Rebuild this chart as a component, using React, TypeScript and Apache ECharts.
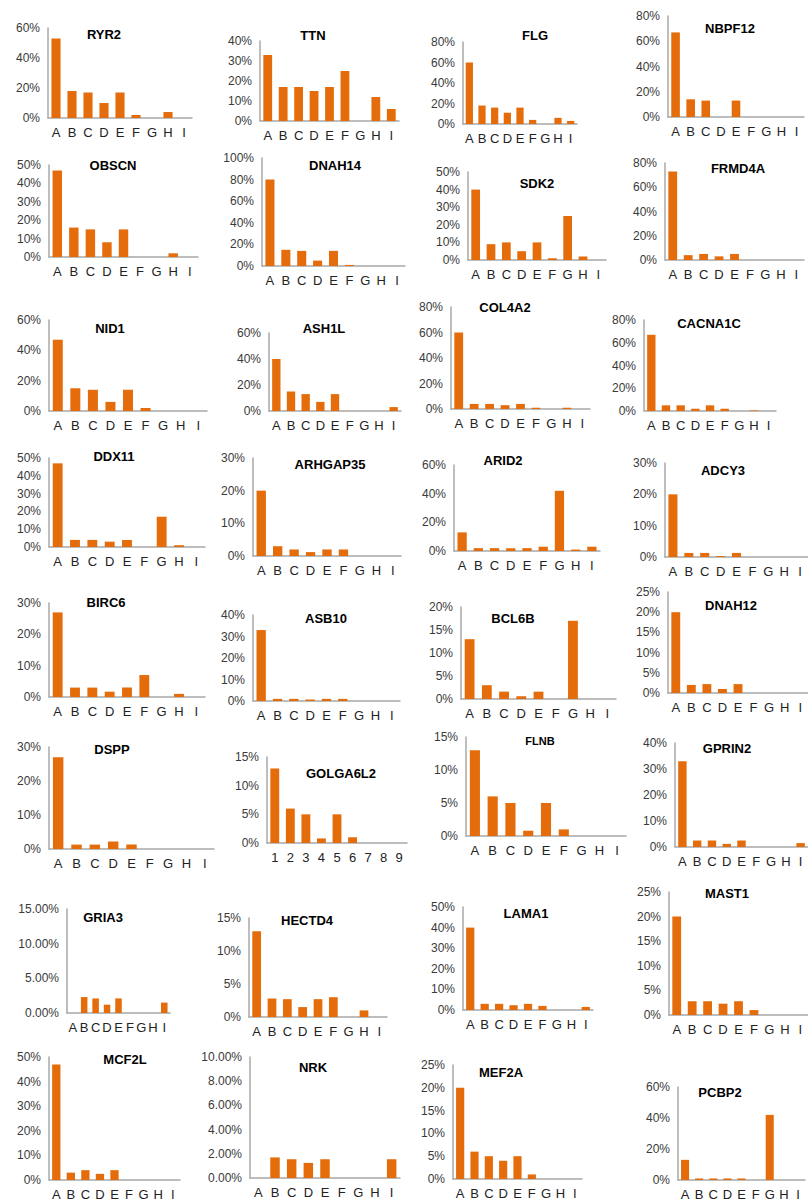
import React, { useEffect, useRef } from "react";
import * as echarts from "echarts";

const LETTERS = ["A", "B", "C", "D", "E", "F", "G", "H", "I"];
const NUMBERS = ["1", "2", "3", "4", "5", "6", "7", "8", "9"];

const GENES = [
  "RYR2", "TTN", "FLG", "NBPF12",
  "OBSCN", "DNAH14", "SDK2", "FRMD4A",
  "NID1", "ASH1L", "COL4A2", "CACNA1C",
  "DDX11", "ARHGAP35", "ARID2", "ADCY3",
  "BIRC6", "ASB10", "BCL6B", "DNAH12",
  "DSPP", "GOLGA6L2", "FLNB", "GPRIN2",
  "GRIA3", "HECTD4", "LAMA1", "MAST1",
  "MCF2L", "NRK", "MEF2A", "PCBP2",
];

// values in percent, categories A..I (GOLGA6L2: 1..9)
const RYR2 = [53, 18, 17, 10, 17, 2, 0, 4, 0];
const TTN = [33, 17, 17, 15, 17, 25, 0, 12, 6];
const FLG = [60, 18, 16, 11, 16, 4, 0, 6, 3];
const NBPF12 = [67, 14, 13, 0, 13, 0, 0, 0, 0];
const OBSCN = [47, 16, 15, 8, 15, 0, 0, 2, 0];
const DNAH14 = [80, 15, 14, 5, 14, 1, 0, 0, 0];
const SDK2 = [40, 9, 10, 5, 10, 1, 25, 2, 0];
const FRMD4A = [73, 4, 5, 3, 5, 0, 0, 0, 0];
const NID1 = [47, 15, 14, 6, 14, 2, 0, 0, 0];
const ASH1L = [40, 15, 13, 7, 13, 0, 0, 0, 3];
const COL4A2 = [60, 4, 4, 3, 4, 1, 0, 1, 0];
const CACNA1C = [67, 5, 5, 2, 5, 2, 0, 0.5, 0];
const DDX11 = [47, 4, 4, 3, 4, 0, 17, 1, 0];
const ARHGAP35 = [20, 3, 2, 1.2, 2, 2, 0, 0, 0];
const ARID2 = [13, 2, 2, 2, 2, 3, 42, 1, 3];
const ADCY3 = [20, 1.3, 1.3, 0.3, 1.3, 0, 0, 0, 0];
const BIRC6 = [27, 3, 3, 1.7, 3, 7, 0, 1, 0];
const ASB10 = [33, 1, 1, 0.7, 1, 1, 0, 0, 0];
const BCL6B = [13, 3, 1.6, 0.6, 1.6, 0, 17, 0, 0];
const DNAH12 = [20, 2, 2.2, 1, 2.2, 0, 0, 0, 0];
const DSPP = [27, 1.3, 1.3, 2.2, 1.3, 0, 0, 0, 0];
const GOLGA6L2 = [13, 6, 5, 0.8, 5, 1, 0, 0, 0];
const FLNB = [13, 6, 5, 0.8, 5, 1, 0, 0, 0];
const GPRIN2 = [33, 2.5, 2.5, 1.2, 2.5, 0, 0, 0, 1.5];
const GRIA3 = [0, 2.3, 2.1, 1.2, 2.1, 0, 0, 0, 1.5];
const HECTD4 = [13, 2.8, 2.7, 1.5, 2.7, 3, 0, 1, 0];
const LAMA1 = [40, 3, 3, 2.3, 3, 2, 0, 0, 1.5];
const MAST1 = [20, 2.8, 2.8, 2.3, 2.8, 1, 0, 0, 0];
const MCF2L = [47, 3, 4, 2.5, 4, 0, 0, 0, 0];
const NRK = [0, 1.7, 1.55, 1.25, 1.55, 0, 0, 0, 1.55];
const MEF2A = [20, 6, 5, 4, 5, 1, 0, 0, 0];
const PCBP2 = [13, 1, 1, 1, 1, 0, 42, 0, 0];

const VALUES = [
  RYR2, TTN, FLG, NBPF12, OBSCN, DNAH14, SDK2, FRMD4A,
  NID1, ASH1L, COL4A2, CACNA1C, DDX11, ARHGAP35, ARID2, ADCY3,
  BIRC6, ASB10, BCL6B, DNAH12, DSPP, GOLGA6L2, FLNB, GPRIN2,
  GRIA3, HECTD4, LAMA1, MAST1, MCF2L, NRK, MEF2A, PCBP2,
];

const Y_MAX = [
  60, 40, 80, 80, 50, 100, 50, 80,
  60, 60, 80, 80, 50, 30, 60, 30,
  30, 40, 20, 25, 30, 15, 15, 40,
  15, 15, 50, 25, 50, 10, 25, 60,
];
const Y_STEP = [
  20, 10, 20, 20, 10, 20, 10, 20,
  20, 20, 20, 20, 10, 10, 20, 10,
  10, 10, 5, 5, 10, 5, 5, 10,
  5, 5, 10, 5, 10, 2, 5, 20,
];
const DECIMAL_TICK_GENES = ["GRIA3", "NRK"];
const NUMBER_CATEGORY_GENES = ["GOLGA6L2"];

// layout: [axisX, topY, zeroY, rightX, titleCenterX, titleY]
const LAYOUT = [
  [48, 28, 118, 192, 104, 34],
  [260, 41, 121, 399, 313, 35],
  [463, 42, 124, 577, 535, 35],
  [668, 16, 117, 804, 730, 28],
  [49, 165, 257, 198, 113, 165],
  [262, 158, 266, 405, 335, 165],
  [468, 172, 260, 606, 537, 183],
  [665, 163, 260, 804, 738, 168],
  [49, 320, 411, 207, 110, 328],
  [269, 333, 411, 401, 324, 328],
  [451, 307, 409, 590, 505, 307],
  [644, 320, 411, 776, 709, 323],
  [49, 458, 547, 205, 114, 456],
  [253, 458, 556, 401, 330, 464],
  [454, 465, 551, 600, 503, 460],
  [665, 463, 557, 808, 723, 470],
  [49, 603, 697, 205, 106, 602],
  [253, 615, 701, 400, 326, 618],
  [461, 607, 699, 616, 513, 618],
  [668, 592, 693, 808, 731, 605],
  [49, 747, 849, 214, 112, 749],
  [267, 757, 843, 407, 341, 773],
  [466, 737, 836, 626, 540, 741],
  [675, 743, 847, 808, 727, 748],
  [67, 909, 1013, 170, 103, 917],
  [249, 918, 1017, 387, 307, 920],
  [463, 907, 1010, 593, 526, 913],
  [669, 892, 1015, 808, 727, 893],
  [49, 1057, 1180, 180, 125, 1059],
  [250, 1057, 1178, 400, 313, 1067],
  [453, 1065, 1179, 582, 501, 1072],
  [678, 1087, 1180, 805, 720, 1092],
];

const FONT = "'Liberation Sans', Arial, sans-serif";
const BAR_COLOR = "#E46C0A";
const AXIS_COLOR = "#A8A8A8";

function buildOption() {
  const grid: any[] = [];
  const xAxis: any[] = [];
  const yAxis: any[] = [];
  const series: any[] = [];
  const graphic: any[] = [];
  GENES.forEach((gene, i) => {
    const [ax, top, bottom, right, tx, ty] = LAYOUT[i];
    const decimals = DECIMAL_TICK_GENES.includes(gene);
    const cats = NUMBER_CATEGORY_GENES.includes(gene) ? NUMBERS : LETTERS;
    grid.push({ left: ax, top, width: right - ax, height: bottom - top, containLabel: false });
    xAxis.push({
      type: "category",
      gridIndex: i,
      data: cats,
      axisLine: { show: true, lineStyle: { color: AXIS_COLOR, width: 1.5 } },
      axisTick: { show: false },
      axisLabel: { interval: 0, color: "#222", fontSize: 13, margin: 8, fontFamily: FONT },
    });
    yAxis.push({
      type: "value",
      gridIndex: i,
      min: 0,
      max: Y_MAX[i],
      interval: Y_STEP[i],
      axisLine: { show: true, lineStyle: { color: AXIS_COLOR, width: 1.5 } },
      axisTick: { show: false },
      splitLine: { show: false },
      axisLabel: {
        color: "#3a3a3a",
        fontSize: 12,
        margin: 8,
        fontFamily: FONT,
        formatter: (v: number) => (decimals ? v.toFixed(2) + "%" : v + "%"),
      },
    });
    series.push({
      type: "bar",
      name: gene,
      xAxisIndex: i,
      yAxisIndex: i,
      data: VALUES[i],
      barCategoryGap: "43%",
      itemStyle: { color: BAR_COLOR },
    });
    graphic.push({
      type: "text",
      x: tx,
      y: ty,
      style: {
        text: gene,
        fill: "#000",
        font: `bold ${gene === "FLNB" ? 11 : 13}px 'Liberation Sans', Arial, sans-serif`,
        textAlign: "center",
        textVerticalAlign: "middle",
      },
    });
  });
  return {
    animation: false,
    backgroundColor: "#ffffff",
    grid,
    xAxis,
    yAxis,
    series,
    graphic,
  };
}

export default function App() {
  const ref = useRef<HTMLDivElement>(null);
  useEffect(() => {
    if (!ref.current) return;
    const chart = echarts.init(ref.current, undefined, { renderer: "svg" });
    chart.setOption(buildOption());
    return () => chart.dispose();
  }, []);
  return (
    <div
      ref={ref}
      style={{ position: "absolute", left: 0, top: 0, width: 808, height: 1203, background: "#fff" }}
    />
  );
}
